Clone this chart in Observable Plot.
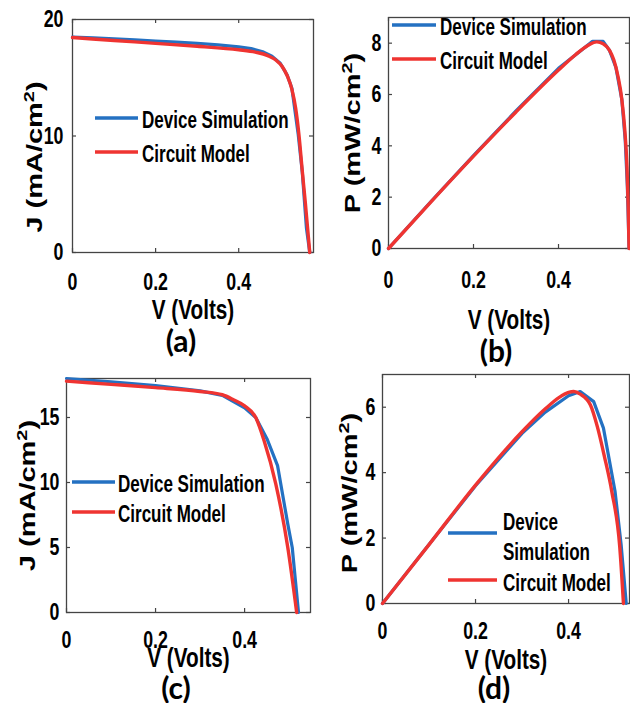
<!DOCTYPE html>
<html>
<head>
<meta charset="utf-8">
<script src="https://cdn.jsdelivr.net/npm/d3@7"></script>
<script src="https://cdn.jsdelivr.net/npm/@observablehq/plot@0.6"></script>
<style>
  html, body { margin: 0; padding: 0; background: #fff; }
  #root { position: relative; width: 630px; height: 703px; background: #fff; overflow: hidden; }
  .panel { position: absolute; }
  .letter { position: absolute; font-family: Lato, "Open Sans", sans-serif; font-weight: 700; font-size: 30px; color: #000; transform: translate(-50%, -50%); white-space: nowrap; line-height: 1; }
</style>
</head>
<body>
<div id="root"></div>
<script>
// ---------------- data ----------------
const seriesNames = ["Device Simulation", "Circuit Model"];
const panelLetters = ["(a)", "(b)", "(c)", "(d)"];
const xLabel = "V (Volts)";
const jLabel = "J (mA/cm²)";
const pLabel = "P (mW/cm²)";
const xTicks = [0, 0.2, 0.4];
const aYTicks = [0, 10, 20];
const bYTicks = [0, 2, 4, 6, 8];
const cYTicks = [0, 5, 10, 15];
const dYTicks = [0, 2, 4, 6];

// (a) J-V
const aDevV = [0, 0.05, 0.1, 0.15, 0.2, 0.25, 0.3, 0.35, 0.4, 0.43, 0.46, 0.48, 0.5, 0.517, 0.528, 0.543, 0.553, 0.563, 0.571];
const aDevJ = [18.5, 18.42, 18.33, 18.25, 18.15, 18.05, 17.95, 17.82, 17.65, 17.5, 17.2, 16.85, 16.25, 15.2, 14.1, 10.2, 6.9, 2.1, 0];
const aCirV = [0, 0.1, 0.2, 0.3, 0.4, 0.44, 0.47, 0.49, 0.505, 0.517, 0.528, 0.537, 0.545, 0.553, 0.56, 0.566, 0.571];
const aCirJ = [18.45, 18.2, 17.95, 17.7, 17.4, 17.2, 16.9, 16.5, 15.95, 15.15, 14.0, 12.4, 10.1, 7.0, 4.4, 2.0, 0];
// (b) P-V
const bDevV = [0, 0.1, 0.2, 0.3, 0.4, 0.45, 0.48, 0.505, 0.52, 0.535, 0.549, 0.557, 0.562, 0.566];
const bDevP = [0, 1.83, 3.62, 5.36, 7.02, 7.68, 8.07, 8.07, 7.72, 7.05, 5.8, 4.2, 2.4, 0];
const bCirV = [0, 0.1, 0.2, 0.3, 0.4, 0.44, 0.47, 0.49, 0.505, 0.52, 0.53, 0.54, 0.549, 0.556, 0.561, 0.564, 0.566];
const bCirP = [0, 1.82, 3.6, 5.32, 6.95, 7.55, 7.92, 8.05, 7.98, 7.72, 7.35, 6.7, 5.8, 4.6, 3.2, 1.6, 0];
// (c) J-V
const cDevV = [0, 0.1, 0.2, 0.3, 0.35, 0.4, 0.425, 0.451, 0.474, 0.497, 0.507, 0.521];
const cDevJ = [18.0, 17.75, 17.45, 17.05, 16.7, 15.75, 15.0, 13.3, 11.3, 6.8, 5.0, 0];
const cCirV = [0, 0.1, 0.2, 0.3, 0.35, 0.376, 0.4, 0.425, 0.444, 0.47, 0.497, 0.517];
const cCirJ = [17.8, 17.55, 17.3, 17.0, 16.75, 16.35, 15.9, 15.0, 13.2, 9.9, 5.0, 0];
// (d) P-V
const dDevV = [0, 0.1, 0.2, 0.3, 0.35, 0.4, 0.425, 0.454, 0.475, 0.5, 0.513, 0.524];
const dDevP = [0, 1.8, 3.6, 5.2, 5.85, 6.35, 6.48, 6.17, 5.36, 3.42, 1.8, 0];
const dCirV = [0, 0.1, 0.2, 0.3, 0.35, 0.38, 0.4, 0.411, 0.425, 0.447, 0.462, 0.477, 0.493, 0.51, 0.518];
const dCirP = [0, 1.8, 3.62, 5.25, 5.95, 6.3, 6.45, 6.48, 6.4, 6.07, 5.4, 4.5, 3.42, 1.74, 0];

// ---------------- helpers ----------------
const BLUE = "#2471c2";
const RED = "#ef3431";
const AXIS = "#444";
const FONT = "'Liberation Sans', Arial, sans-serif";
const SQUEEZE = 0.74;

const zip = (xs, ys) => xs.map((v, i) => ({v, y: ys[i]}));

function legendMark(items) {
  return () => {
    const g = d3.create("svg:g");
    for (const it of items) {
      g.append("line")
        .attr("x1", it.x1).attr("x2", it.x2).attr("y1", it.y).attr("y2", it.y)
        .attr("stroke", it.color).attr("stroke-width", 3.4);
      for (const tx of it.texts) {
        g.append("text")
          .attr("x", it.tx).attr("y", tx.y).attr("dy", "0.35em")
          .attr("text-anchor", "start")
          .attr("font-size", 23).attr("font-weight", "bold").attr("fill", "#000")
          .text(tx.t);
      }
    }
    return g.node();
  };
}

function makePanel(cfg) {
  const W = cfg.width - cfg.ml - cfg.mr;
  const H = cfg.height - cfg.mt - cfg.mb;
  const dev = zip(cfg.devV, cfg.devY);
  const cir = zip(cfg.cirV, cfg.cirY);
  const svg = Plot.plot({
    width: cfg.width, height: cfg.height,
    marginLeft: cfg.ml, marginRight: cfg.mr, marginTop: cfg.mt, marginBottom: cfg.mb,
    style: {fontFamily: FONT, fontWeight: "bold", color: "#000", background: "transparent", overflow: "visible"},
    x: {domain: cfg.xDomain, axis: null},
    y: {domain: cfg.yDomain, axis: null},
    marks: [
      Plot.frame({stroke: AXIS, strokeWidth: 1.3}),
      Plot.tickX(xTicks, {x: d => d, stroke: AXIS, strokeWidth: 1.2, insetTop: H - 4}),
      Plot.tickX(xTicks, {x: d => d, stroke: AXIS, strokeWidth: 1.2, insetBottom: H - 4}),
      Plot.tickY(cfg.yTicks, {y: d => d, stroke: AXIS, strokeWidth: 1.2, insetRight: W - 4}),
      Plot.tickY(cfg.yTicks, {y: d => d, stroke: AXIS, strokeWidth: 1.2, insetLeft: W - 4}),
      Plot.axisX({ticks: xTicks, tickSize: 0, tickPadding: cfg.padX, tickFormat: d3.format("~g"), fontSize: 24, fontWeight: "bold", label: null}),
      Plot.axisY({ticks: cfg.yTicks, tickSize: 0, tickPadding: cfg.padY, tickFormat: d3.format("~g"), fontSize: 24, fontWeight: "bold", label: null}),
      Plot.text([xLabel], {text: d => d, frameAnchor: "bottom", textAnchor: "middle", dy: cfg.xlDy, lineAnchor: "middle", fontSize: 28, fontWeight: "bold"}),
      Plot.text([cfg.yLabel], {text: d => d, frameAnchor: "left", textAnchor: "middle", dx: cfg.ylDx, dy: cfg.ylDy, rotate: -90, lineAnchor: "middle", fontSize: 29, fontWeight: "bold"}),
      Plot.line(dev, {x: "v", y: "y", stroke: BLUE, strokeWidth: 3.2, curve: "linear"}),
      Plot.line(cir, {x: "v", y: "y", stroke: RED, strokeWidth: 3.4, curve: "monotone-x"}),
      legendMark(cfg.legend)
    ]
  });
  const wrap = document.createElement("div");
  wrap.className = "panel";
  wrap.style.left = cfg.left + "px";
  wrap.style.top = cfg.top + "px";
  wrap.appendChild(svg);
  document.getElementById("root").appendChild(wrap);
  postProcess(svg);
}

function postProcess(svg) {
  svg.querySelectorAll("text").forEach(t => {
    const tr = t.getAttribute("transform") || "";
    const content = t.textContent;
    if (content.includes("²")) {
      const [before, after] = content.split("²");
      t.textContent = "";
      const ns = "http://www.w3.org/2000/svg";
      const s1 = document.createElementNS(ns, "tspan"); s1.textContent = before;
      const s2 = document.createElementNS(ns, "tspan"); s2.textContent = "2";
      s2.setAttribute("dy", "-11"); s2.setAttribute("font-size", "20");
      const s3 = document.createElementNS(ns, "tspan"); s3.textContent = after;
      s3.setAttribute("dy", "11");
      t.append(s1, s2, s3);
    }
    if (tr.includes("rotate")) {
      t.setAttribute("transform", tr + ` scale(1,${SQUEEZE})`);
      return;
    }
    const L = t.getComputedTextLength();
    if (L > 0) {
      t.setAttribute("textLength", (L * SQUEEZE).toFixed(2));
      t.setAttribute("lengthAdjust", "spacingAndGlyphs");
    }
  });
}

// ---------------- panels ----------------
makePanel({
  left: 0, top: 0, width: 320, height: 330, ml: 72, mr: 7, mt: 19, mb: 78,
  xDomain: [0, 0.58], yDomain: [0, 20], yTicks: aYTicks,
  devV: aDevV, devY: aDevJ, cirV: aCirV, cirY: aCirJ,
  padX: 20, padY: 9, xlDy: 58, yLabel: jLabel, ylDx: -37, ylDy: 21,
  legend: [
    {color: BLUE, x1: 95, x2: 138, y: 118, tx: 142, texts: [{t: seriesNames[0], y: 120}]},
    {color: RED, x1: 95, x2: 138, y: 152, tx: 142, texts: [{t: seriesNames[1], y: 154}]}
  ]
});
makePanel({
  left: 320, top: 0, width: 310, height: 330, ml: 68, mr: 1, mt: 17, mb: 82,
  xDomain: [0, 0.567], yDomain: [0, 9], yTicks: bYTicks,
  devV: bDevV, devY: bDevP, cirV: bCirV, cirY: bCirP,
  padX: 22, padY: 7, xlDy: 72, yLabel: pLabel, ylDx: -35, ylDy: 0,
  legend: [
    {color: BLUE, x1: 72, x2: 116, y: 25, tx: 120, texts: [{t: seriesNames[0], y: 27}]},
    {color: RED, x1: 72, x2: 116, y: 59, tx: 120, texts: [{t: seriesNames[1], y: 61}]}
  ]
});
makePanel({
  left: 0, top: 360, width: 320, height: 343, ml: 66, mr: 10, mt: 18, mb: 91,
  xDomain: [0, 0.548], yDomain: [0, 18], yTicks: cYTicks,
  devV: cDevV, devY: cDevJ, cirV: cCirV, cirY: cCirJ,
  padX: 18, padY: 7, xlDy: 46, yLabel: jLabel, ylDx: -38, ylDy: 0,
  legend: [
    {color: BLUE, x1: 72, x2: 115, y: 122, tx: 118, texts: [{t: seriesNames[0], y: 124}]},
    {color: RED, x1: 72, x2: 115, y: 152, tx: 118, texts: [{t: seriesNames[1], y: 154}]}
  ]
});
makePanel({
  left: 320, top: 360, width: 310, height: 343, ml: 62, mr: 1, mt: 14, mb: 100,
  xDomain: [0, 0.531], yDomain: [0, 7], yTicks: dYTicks,
  devV: dDevV, devY: dDevP, cirV: dCirV, cirY: dCirP,
  padX: 18, padY: 7, xlDy: 57, yLabel: pLabel, ylDx: -32, ylDy: 4,
  legend: [
    {color: BLUE, x1: 128, x2: 177, y: 173, tx: 183, texts: [{t: "Device", y: 162}, {t: "Simulation", y: 192}]},
    {color: RED, x1: 128, x2: 177, y: 220, tx: 183, texts: [{t: seriesNames[1], y: 223}]}
  ]
});

// panel letters
const letterPos = [[181, 340], [496, 350], [176, 687], [494, 687]];
panelLetters.forEach((txt, i) => {
  const d = document.createElement("div");
  d.className = "letter";
  d.style.left = letterPos[i][0] + "px";
  d.style.top = letterPos[i][1] + "px";
  d.textContent = txt;
  document.getElementById("root").appendChild(d);
});
</script>
</body>
</html>
